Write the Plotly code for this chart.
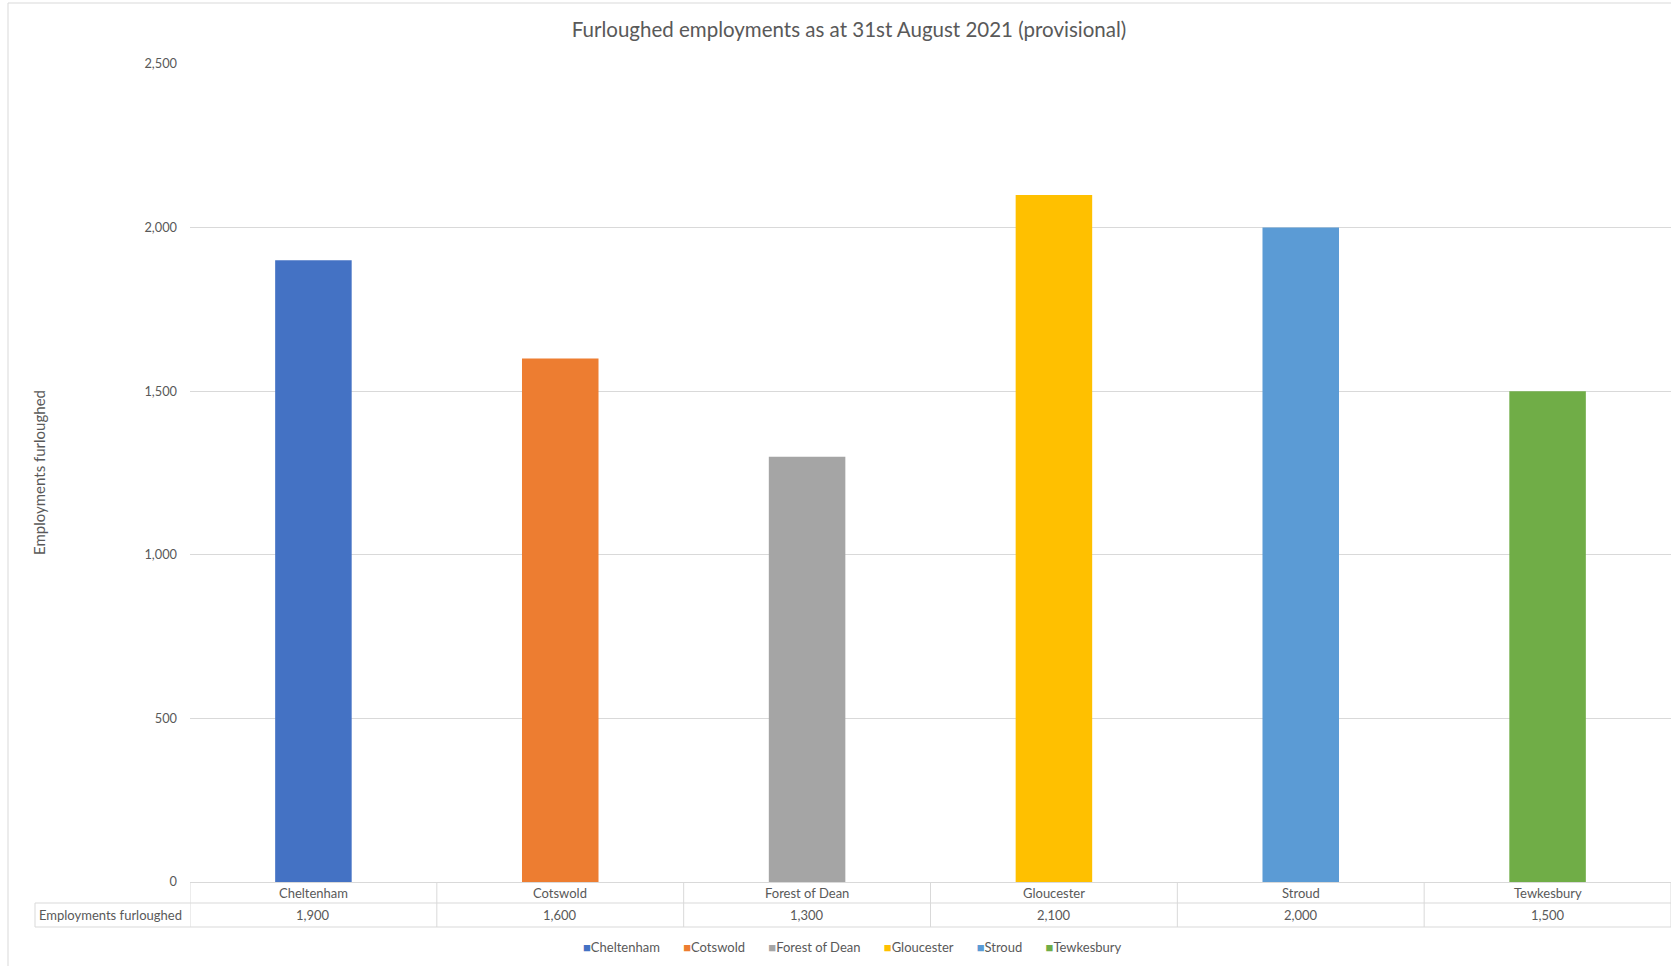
import plotly.graph_objects as go

categories = ["Cheltenham", "Cotswold", "Forest of Dean", "Gloucester", "Stroud", "Tewkesbury"]
values = [1900, 1600, 1300, 2100, 2000, 1500]
colors = ["#4472C4", "#ED7D31", "#A5A5A5", "#FFC000", "#5B9BD5", "#70AD47"]
series_name = "Employments furloughed"
title = "Furloughed employments as at 31st August 2021 (provisional)"
y_ticks = [0, 500, 1000, 1500, 2000, 2500]

W, H = 1671, 966
L, R, T, B = 190, 0, 64, 84
plot_w = W - L - R
plot_h = H - T - B

def px_x(px):
    return (px - L) / plot_w

def px_y(py):
    return (H - B - py) / plot_h

FONT = "Lato, 'Open Sans', sans-serif"
TXT = "#595959"
GRID = "#D9D9D9"

fig = go.Figure()
for cat, val, col in zip(categories, values, colors):
    fig.add_trace(go.Bar(x=[cat], y=[val], name=cat, marker=dict(color=col, line=dict(width=0)),
                         width=0.31, showlegend=False))

fig.update_layout(
    width=W, height=H,
    margin=dict(l=L, r=R, t=T, b=B),
    paper_bgcolor="white", plot_bgcolor="white",
    barmode="overlay",
    title=dict(text=title, x=849 / W, xanchor="center", y=1 - 30 / H, yanchor="middle",
               font=dict(family=FONT, size=20.5, color=TXT)),
    font=dict(family=FONT, color=TXT),
)

fig.update_yaxes(range=[0, 2500], tickvals=y_ticks, tickformat=",", showgrid=True, gridcolor=GRID,
                 gridwidth=1, zeroline=False, showline=False, ticks="",
                 tickfont=dict(family=FONT, size=12.8, color=TXT), ticklabelstandoff=12)
fig.update_xaxes(showticklabels=False, showgrid=False, zeroline=False, showline=True,
                 linecolor=GRID, linewidth=1, range=[-0.5, len(categories) - 0.5])

# Y-axis title
fig.add_annotation(text=series_name, xref="paper", yref="paper", x=px_x(39), xanchor="center",
                   y=px_y(473), yanchor="middle",
                   textangle=-90, showarrow=False, font=dict(family=FONT, size=15, color=TXT))

# Legend (compact, Excel-style)
legend_text = "&nbsp;" * 7
legend_text = legend_text.join(
    f"<span style='color:{c}'>■</span>{n}" for n, c in zip(categories, colors))
fig.add_annotation(text=legend_text, xref="paper", yref="paper", x=px_x(852), xanchor="center",
                   y=px_y(947), yanchor="middle", showarrow=False,
                   font=dict(family=FONT, size=13, color=TXT))

# Data table
row1_y = px_y(893)
row2_y = px_y(915)
for cat, val in zip(categories, values):
    fig.add_annotation(text=cat, x=cat, xref="x", yref="paper", y=row1_y, showarrow=False,
                       font=dict(family=FONT, size=13, color=TXT), yanchor="middle")
    fig.add_annotation(text=f"{val:,}", x=cat, xref="x", yref="paper", y=row2_y, showarrow=False,
                       font=dict(family=FONT, size=13, color=TXT), yanchor="middle")
fig.add_annotation(text=series_name, xref="paper", yref="paper", x=px_x(37), xanchor="left",
                   y=row2_y, showarrow=False, font=dict(family=FONT, size=13, color=TXT),
                   yanchor="middle")

line = dict(color=GRID, width=1)
for yy in (903, 927):
    fig.add_shape(type="line", xref="paper", yref="paper", x0=px_x(35), x1=1,
                  y0=px_y(yy), y1=px_y(yy), line=line)
fig.add_shape(type="line", xref="paper", yref="paper", x0=px_x(35), x1=px_x(35),
              y0=px_y(903), y1=px_y(927), line=line)
for i in range(len(categories) + 1):
    fig.add_shape(type="line", xref="x", yref="paper", x0=i - 0.5, x1=i - 0.5,
                  y0=px_y(882), y1=px_y(927), line=line)

# Chart border (cropped chart area)
fig.add_shape(type="line", xref="paper", yref="paper", x0=px_x(8), x1=px_x(8),
              y0=px_y(3), y1=px_y(H), line=line)
fig.add_shape(type="line", xref="paper", yref="paper", x0=px_x(8), x1=1.01,
              y0=px_y(3), y1=px_y(3), line=line)

fig.write_html("out.html", config={"displayModeBar": False},
               post_script="document.body.style.margin='0';document.body.style.overflow='hidden';")
